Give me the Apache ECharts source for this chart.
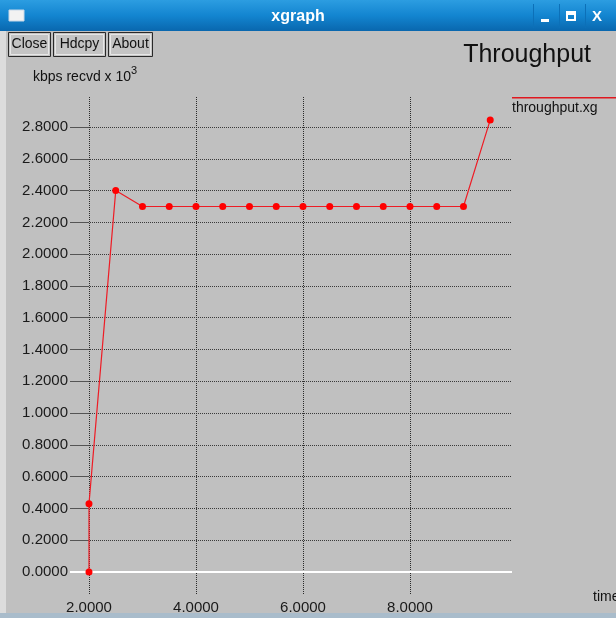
<!DOCTYPE html>
<html>
<head>
<meta charset="utf-8">
<script src="https://cdn.jsdelivr.net/npm/echarts@6/dist/echarts.min.js"></script>
<style>
html,body{margin:0;padding:0;background:#c0c0c0;}
#chart{width:616px;height:618px;}
</style>
</head>
<body>
<div id="chart"></div>
<script>
// ---- data ----
const timeValues = [2.0, 2.0, 2.5, 3.0, 3.5, 4.0, 4.5, 5.0, 5.5, 6.0, 6.5, 7.0, 7.5, 8.0, 8.5, 9.0, 9.5];
const throughputValues = [0.0, 0.43, 2.4, 2.3, 2.3, 2.3, 2.3, 2.3, 2.3, 2.3, 2.3, 2.3, 2.3, 2.3, 2.3, 2.3, 2.845];
const xTickValues = [2, 4, 6, 8];
const yTickValues = [0, 0.2, 0.4, 0.6, 0.8, 1.0, 1.2, 1.4, 1.6, 1.8, 2.0, 2.2, 2.4, 2.6, 2.8];
const seriesName = 'throughput.xg';
const chartTitle = 'Throughput';
const windowTitle = 'xgraph';
const xAxisName = 'time';
const buttonLabels = ['Close', 'Hdcpy', 'About'];

const FONT = '"Liberation Sans", Arial, sans-serif';
const chart = echarts.init(document.getElementById('chart'));

const buttonBoxes = [[8, 42], [53, 52], [108, 44]];
const graphics = [
  // left window edge
  { type: 'rect', shape: { x: 0, y: 30, width: 6, height: 588 }, style: { fill: '#dcdcdc' }, silent: true },
  // bottom edge
  { type: 'rect', shape: { x: 0, y: 613, width: 616, height: 5 }, style: { fill: '#a9bccb' }, silent: true },
  // title bar
  { type: 'rect', shape: { x: 0, y: 0, width: 616, height: 31 },
    style: { fill: new echarts.graphic.LinearGradient(0, 0, 0, 1, [
      { offset: 0, color: '#2c9de1' }, { offset: 0.5, color: '#1385d0' }, { offset: 1, color: '#0967ae' }]) }, silent: true },
  { type: 'rect', shape: { x: 9, y: 10, width: 15, height: 11 }, style: { fill: '#f2f2f2', stroke: '#c8d8e8', lineWidth: 1 }, silent: true },
  { type: 'text', x: 298, y: 17, style: { text: windowTitle, font: 'bold 16px ' + FONT, fill: '#ffffff', align: 'center', verticalAlign: 'middle' }, silent: true },
  { type: 'rect', shape: { x: 533, y: 4, width: 1, height: 24 }, style: { fill: '#0c70b8' }, silent: true },
  { type: 'rect', shape: { x: 559, y: 4, width: 1, height: 24 }, style: { fill: '#0c70b8' }, silent: true },
  { type: 'rect', shape: { x: 585, y: 4, width: 1, height: 24 }, style: { fill: '#0c70b8' }, silent: true },
  { type: 'rect', shape: { x: 541, y: 19, width: 8, height: 3 }, style: { fill: '#ffffff' }, silent: true },
  { type: 'rect', shape: { x: 567, y: 12, width: 8, height: 8 }, style: { fill: 'none', stroke: '#ffffff', lineWidth: 2 }, silent: true },
  { type: 'rect', shape: { x: 567, y: 12, width: 8, height: 3 }, style: { fill: '#ffffff' }, silent: true },
  { type: 'text', x: 597, y: 17, style: { text: 'X', font: 'bold 15px ' + FONT, fill: '#ffffff', align: 'center', verticalAlign: 'middle' }, silent: true },
  // chart title
  { type: 'text', x: 591, y: 55, style: { text: chartTitle, font: '25px ' + FONT, fill: '#111111', align: 'right', verticalAlign: 'middle' }, silent: true },
  // y axis caption
  { type: 'text', x: 33, y: 75, style: { text: '{a|kbps recvd x 10}{s|3}', verticalAlign: 'middle',
      rich: { a: { font: '14px ' + FONT, fill: '#111111', verticalAlign: 'bottom' },
              s: { font: '11px ' + FONT, fill: '#111111', verticalAlign: 'top', padding: [0, 0, 8, 0] } } }, silent: true },
  // legend
  { type: 'rect', shape: { x: 512, y: 97, width: 104, height: 1.5 }, style: { fill: '#e0181f' }, silent: true },
  { type: 'text', x: 512, y: 108, style: { text: seriesName, font: '14px ' + FONT, fill: '#111111', verticalAlign: 'middle' }, silent: true },
  // x axis name
  { type: 'text', x: 593, y: 597, style: { text: xAxisName, font: '14px ' + FONT, fill: '#111111', verticalAlign: 'middle' }, silent: true }
];
buttonLabels.forEach(function (lab, i) {
  const b = buttonBoxes[i];
  graphics.push({ type: 'rect', shape: { x: b[0] + 0.5, y: 32.5, width: b[1], height: 24 },
    style: { fill: '#c4c4c4', stroke: '#2a2a2a', lineWidth: 1 }, silent: true });
  graphics.push({ type: 'rect', shape: { x: b[0] + 2.5, y: 34.5, width: b[1] - 4, height: 20 },
    style: { fill: 'none', stroke: '#e6e6e6', lineWidth: 1 }, silent: true });
  graphics.push({ type: 'text', x: b[0] + b[1] / 2 + 0.5, y: 44.5,
    style: { text: lab, font: '14px ' + FONT, fill: '#111111', align: 'center', verticalAlign: 'middle' }, silent: true });
});

const option = {
  backgroundColor: '#c0c0c0',
  animation: false,
  textStyle: { fontFamily: FONT },
  grid: { left: 70, right: 104, top: 97, bottom: 23, containLabel: false },
  xAxis: {
    type: 'value', min: 1.645, max: 9.907,
    axisLine: { show: false },
    axisTick: { show: false, customValues: xTickValues },
    axisLabel: { customValues: xTickValues, formatter: function (v) { return v.toFixed(4); },
      fontSize: 15, color: '#1a1a1a', margin: 5, fontFamily: FONT },
    splitLine: { show: true, lineStyle: { type: [1, 1], color: '#2a2a2a', width: 1 } }
  },
  yAxis: {
    type: 'value', min: -0.1447, max: 2.989,
    axisLine: { show: false },
    axisTick: { show: true, inside: true, length: 19, customValues: yTickValues, lineStyle: { color: '#555555', width: 1 } },
    axisLabel: { customValues: yTickValues, formatter: function (v) { return v.toFixed(4); },
      fontSize: 15, color: '#1a1a1a', margin: 2, fontFamily: FONT },
    splitLine: { show: true, lineStyle: { type: [1, 1], color: '#3a3a3a', width: 1 } }
  },
  series: [{
    name: seriesName,
    type: 'line',
    data: timeValues.map(function (t, i) { return [t, throughputValues[i]]; }),
    symbol: 'circle', symbolSize: 7,
    lineStyle: { color: '#ee1c25', width: 1.2 },
    itemStyle: { color: '#ff0000' },
    z: 5,
    markLine: {
      silent: true, symbol: 'none', label: { show: false }, animation: false,
      lineStyle: { color: '#ffffff', type: 'solid', width: 2 },
      data: [{ yAxis: 0 }],
      z: 1
    }
  }],
  graphic: graphics
};
chart.setOption(option);
</script>
</body>
</html>
